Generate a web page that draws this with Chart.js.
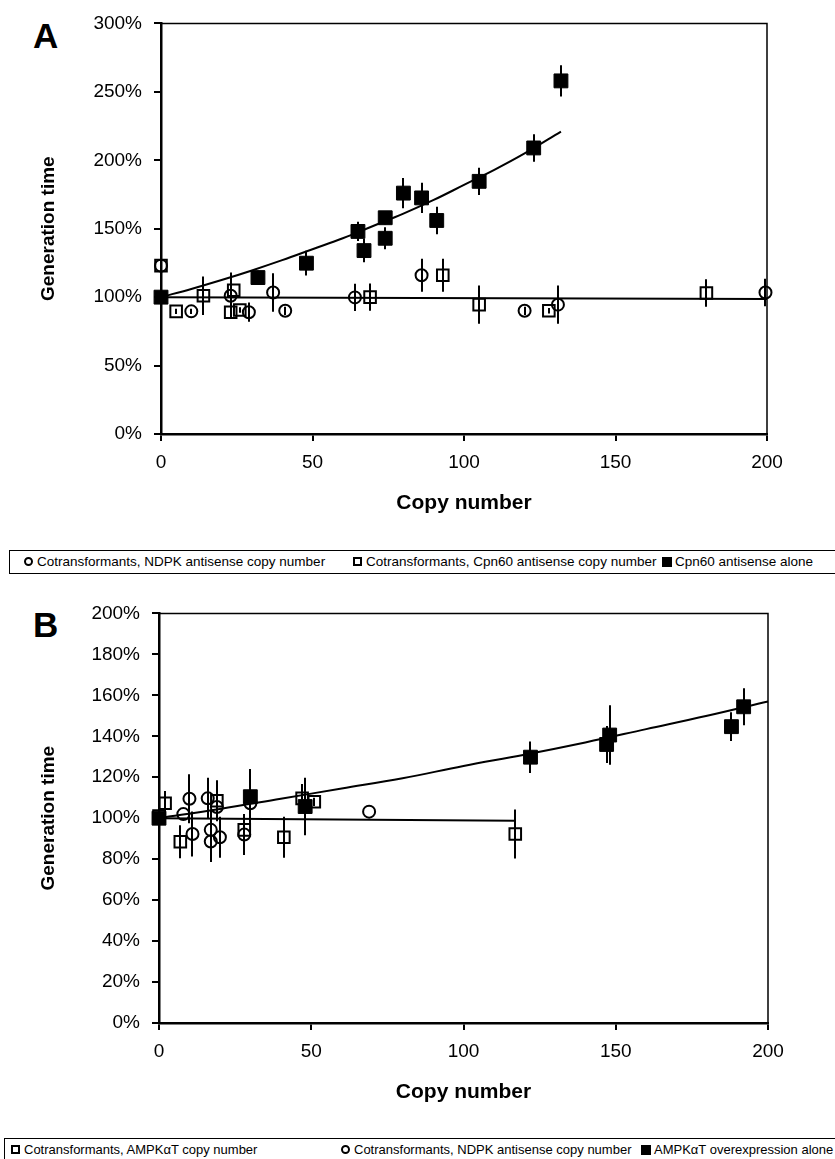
<!DOCTYPE html>
<html>
<head>
<meta charset="utf-8">
<script src="https://cdn.jsdelivr.net/npm/chart.js@4.4.1/dist/chart.umd.min.js"></script>
<style>
html,body{margin:0;padding:0;background:#fff;}
body{position:relative;width:835px;height:1159px;overflow:hidden;font-family:'Liberation Sans',Arial,sans-serif;color:#000;}
canvas{position:absolute;left:0;}
.plabel{position:absolute;font-weight:bold;font-size:35px;line-height:35px;}
.legend{position:absolute;border:1.5px solid #000;box-sizing:border-box;background:#fff;}
.item{position:absolute;top:0;height:100%;display:flex;align-items:center;white-space:nowrap;}
.mk{position:absolute;box-sizing:border-box;}
.mk.circle{width:9px;height:9px;border:2.5px solid #000;border-radius:50%;}
.mk.square{width:9px;height:9px;border:2.5px solid #000;}
.mk.filled{width:10px;height:10px;background:#000;}
</style>
</head>
<body>
<div class="plabel" style="left:33px;top:18px;">A</div>
<canvas id="cA" width="835" height="530" style="top:0px;"></canvas>
<div class="legend" id="legA" style="left:9px;top:550px;width:840px;height:24px;font-size:13.5px;"></div>
<div class="plabel" style="left:33px;top:607px;">B</div>
<canvas id="cB" width="835" height="530" style="top:590px;"></canvas>
<div class="legend" id="legB" style="left:4px;top:1138px;width:845px;height:30px;font-size:13px;"></div>
<script>
// ---------- shared axis ticks ----------
const xTickValues = [0, 50, 100, 150, 200];
const xTickLabels = ['0', '50', '100', '150', '200'];
const yTickValuesA = [0, 50, 100, 150, 200, 250, 300];
const yTickLabelsA = ['0%', '50%', '100%', '150%', '200%', '250%', '300%'];
const yTickValuesB = [0, 20, 40, 60, 80, 100, 120, 140, 160, 180, 200];
const yTickLabelsB = ['0%', '20%', '40%', '60%', '80%', '100%', '120%', '140%', '160%', '180%', '200%'];
const xTitle = 'Copy number';
const yTitle = 'Generation time';

// ---------- Panel A ----------
const labelsA = ['Cotransformants, NDPK antisense copy number', 'Cotransformants, Cpn60 antisense copy number', 'Cpn60 antisense alone'];
const ndpkA_x   = [0, 10, 23, 29, 37, 41, 64, 86, 120, 131, 199.5];
const ndpkA_y   = [123, 89.6, 101, 89, 103.4, 90, 99.8, 116, 90, 94.5, 103.4];
const ndpkA_err = [0, 2, 17, 7, 14, 3, 10, 12, 3, 14, 10];
const cpnCoA_x   = [0, 5, 14, 23, 24, 26, 69, 93, 105, 128, 180];
const cpnCoA_y   = [123, 89.6, 101, 89, 105, 90.6, 100, 116, 94.5, 90, 103];
const cpnCoA_err = [0, 2, 14, 0, 0, 2, 10, 12, 14, 2, 10];
const cpnA_x   = [0, 32, 48, 65, 67, 74, 74, 80, 86, 91, 105, 123, 132];
const cpnA_y   = [100, 114.3, 124.8, 148, 134, 158, 143, 176, 172.5, 156, 184.6, 209, 258];
const cpnA_err = [3, 5, 9, 7, 8.5, 5, 8, 11, 11, 10, 10, 10, 11.5];
const fitA_x = [0, 10, 20, 30, 40, 50, 60, 70, 80, 90, 100, 110, 120, 132];
const fitA_y = [100, 106, 112.5, 119.5, 127, 135, 143, 152, 161, 171, 182, 193, 205, 221];
const flatA_x = [0, 200];
const flatA_y = [100, 98.6];

// ---------- Panel B ----------
const labelsB = ['Cotransformants, AMPK\u03b1T copy number', 'Cotransformants, NDPK antisense copy number', 'AMPK\u03b1T overexpression alone'];
const ampkCoB_x   = [0, 2, 7, 19, 28, 41, 47, 51, 117];
const ampkCoB_y   = [101, 107.3, 88.5, 108.5, 94.3, 90.7, 109.7, 108, 92.3];
const ampkCoB_err = [0, 6, 8, 10, 0, 10, 7, 2, 12];
const ndpkB_x   = [8, 10, 11, 16, 17, 17, 19, 20, 28, 30, 69];
const ndpkB_y   = [102, 109.5, 92.3, 109.7, 94.3, 88.6, 105.5, 90.7, 92, 107.3, 103.2];
const ndpkB_err = [0, 12, 11, 10, 10, 10, 0, 10, 10, 0, 0];
const ampkB_x   = [0, 30, 48, 122, 147, 148, 188, 192];
const ampkB_y   = [100, 110.5, 105.7, 129.8, 136, 140.6, 144.7, 154.4];
const ampkB_err = [0, 13.5, 14, 7.7, 9, 14.5, 7, 9];
const fitB_x = [0, 20, 40, 60, 80, 100, 120, 140, 160, 180, 200];
const fitB_y = [100, 104.5, 109.5, 114.5, 119.5, 125.5, 131, 137, 143.5, 150, 157];
const flatB_x = [0, 117];
const flatB_y = [100, 98.8];

const pts = (xs, ys) => xs.map((x, i) => ({x: x, y: ys[i]}));

const errorBarPlugin = {
  id: 'errorBars',
  afterDatasetsDraw(chart) {
    const ctx = chart.ctx, xs = chart.scales.x, ys = chart.scales.y;
    ctx.save();
    ctx.strokeStyle = '#000';
    ctx.lineWidth = 2;
    chart.data.datasets.forEach(ds => {
      if (!ds.errors) return;
      ds.data.forEach((p, i) => {
        const e = ds.errors[i];
        if (!e) return;
        const px = Math.round(xs.getPixelForValue(p.x));
        ctx.beginPath();
        ctx.moveTo(px, ys.getPixelForValue(p.y - e));
        ctx.lineTo(px, ys.getPixelForValue(p.y + e));
        ctx.stroke();
      });
    });
    ctx.restore();
  }
};

const framePlugin = {
  id: 'frame',
  afterDraw(chart) {
    const {ctx, chartArea: a} = chart;
    ctx.save();
    ctx.strokeStyle = '#000';
    ctx.lineWidth = 1.5;
    ctx.beginPath();
    ctx.moveTo(a.left, a.top);
    ctx.lineTo(a.right, a.top);
    ctx.lineTo(a.right, a.bottom);
    ctx.stroke();
    ctx.restore();
  }
};

function markerSet(label, data, errors, kind) {
  const base = {label: label, data: data, errors: errors, showLine: false, legendKind: kind, clip: false,
    borderColor: '#000', borderWidth: 2, pointBorderWidth: 2};
  if (kind === 'circle') return Object.assign(base, {pointStyle: 'circle', pointRadius: 6, backgroundColor: 'rgba(0,0,0,0)'});
  if (kind === 'square') return Object.assign(base, {pointStyle: 'rect', pointRadius: 8.2, backgroundColor: 'rgba(0,0,0,0)'});
  return Object.assign(base, {pointStyle: 'rect', pointRadius: 9.8, backgroundColor: '#000', pointBorderWidth: 1});
}
function lineSet(data, tension) {
  return {label: '', data: data, showLine: true, pointRadius: 0, borderColor: '#000', borderWidth: 2,
    tension: tension, fill: false, clip: false};
}

function makeChart(id, cfg) {
  const fam = "'Liberation Sans', Arial, sans-serif";
  return new Chart(document.getElementById(id), {
    type: 'scatter',
    data: {datasets: cfg.datasets},
    options: {
      responsive: false, animation: false, devicePixelRatio: 1,
      layout: {padding: {left: 0, right: cfg.padRight, top: cfg.padTop, bottom: 0}},
      plugins: {legend: {display: false}, tooltip: {enabled: false}},
      scales: {
        x: {
          type: 'linear', min: 0, max: 200,
          afterBuildTicks: s => { s.ticks = xTickValues.map(v => ({value: v})); },
          afterFit: s => { s.height = cfg.xHeight; },
          ticks: {font: {family: fam, size: 19}, color: '#000', padding: 10, maxRotation: 0,
            callback: (v) => xTickLabels[xTickValues.indexOf(v)]},
          grid: {drawOnChartArea: false, drawTicks: true, tickLength: 7, color: '#000', lineWidth: 2},
          border: {display: true, color: '#000', width: 2.5},
          title: {display: true, text: xTitle, font: {family: fam, size: 21, weight: 'bold'}, color: '#000', padding: {top: 0, bottom: cfg.xTitlePad}}
        },
        y: {
          type: 'linear', min: cfg.yMin, max: cfg.yMax,
          afterBuildTicks: s => { s.ticks = cfg.yVals.map(v => ({value: v})); },
          afterFit: s => { s.width = cfg.yWidth; },
          ticks: {font: {family: fam, size: 19}, color: '#000', padding: 12,
            callback: (v) => cfg.yLabels[cfg.yVals.indexOf(v)]},
          grid: {drawOnChartArea: false, drawTicks: true, tickLength: 7, color: '#000', lineWidth: 2},
          border: {display: true, color: '#000', width: 2.5},
          title: {display: true, text: yTitle, font: {family: fam, size: 19, weight: 'bold'}, color: '#000', padding: {top: 37, bottom: 0}}
        }
      }
    },
    plugins: [errorBarPlugin, framePlugin]
  });
}

const chartA = makeChart('cA', {
  datasets: [
    markerSet(labelsA[0], pts(ndpkA_x, ndpkA_y), ndpkA_err, 'circle'),
    markerSet(labelsA[1], pts(cpnCoA_x, cpnCoA_y), cpnCoA_err, 'square'),
    markerSet(labelsA[2], pts(cpnA_x, cpnA_y), cpnA_err, 'filled'),
    lineSet(pts(fitA_x, fitA_y), 0.4),
    lineSet(pts(flatA_x, flatA_y), 0)
  ],
  padRight: 68, padTop: 22, xHeight: 96, yWidth: 161, xTitlePad: 14,
  yMin: 0, yMax: 300, yVals: yTickValuesA, yLabels: yTickLabelsA
});

const chartB = makeChart('cB', {
  datasets: [
    markerSet(labelsB[0], pts(ampkCoB_x, ampkCoB_y), ampkCoB_err, 'square'),
    markerSet(labelsB[1], pts(ndpkB_x, ndpkB_y), ndpkB_err, 'circle'),
    markerSet(labelsB[2], pts(ampkB_x, ampkB_y), ampkB_err, 'filled'),
    lineSet(pts(fitB_x, fitB_y), 0.4),
    lineSet(pts(flatB_x, flatB_y), 0)
  ],
  padRight: 67, padTop: 23, xHeight: 97, yWidth: 159, xTitlePad: 15,
  yMin: 0, yMax: 200, yVals: yTickValuesB, yLabels: yTickLabelsB
});

// ---------- HTML legends built from the chart datasets ----------
function buildLegend(chart, boxId, itemLefts, rowH) {
  const box = document.getElementById(boxId);
  const sets = chart.data.datasets.filter(d => d.legendKind);
  sets.forEach((ds, i) => {
    const it = document.createElement('div');
    it.className = 'item';
    it.style.left = itemLefts[i] + 'px';
    it.style.height = rowH + 'px';
    const mk = document.createElement('span');
    mk.className = 'mk ' + ds.legendKind;
    mk.style.left = '0px';
    mk.style.top = ((rowH - (ds.legendKind === 'filled' ? 10 : 9)) / 2) + 'px';
    const tx = document.createElement('span');
    tx.textContent = ds.label;
    tx.style.marginLeft = '13px';
    it.appendChild(mk);
    it.appendChild(tx);
    box.appendChild(it);
  });
}
buildLegend(chartA, 'legA', [14, 343, 652], 21);
buildLegend(chartB, 'legB', [6, 336, 636], 21);
</script>
</body>
</html>
